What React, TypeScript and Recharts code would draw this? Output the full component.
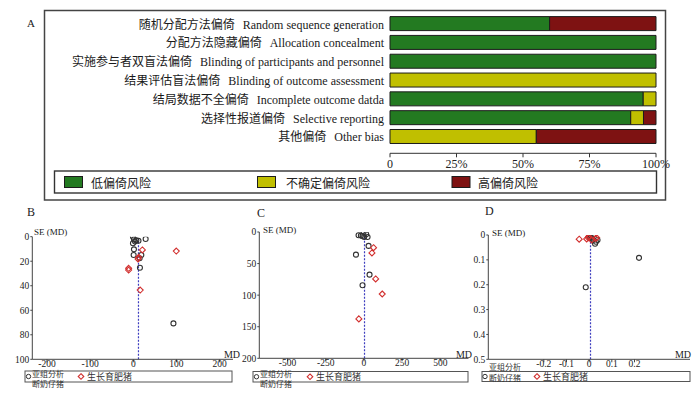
import React from 'react';
import { BarChart, Bar, XAxis, YAxis, ScatterChart, Scatter, ReferenceLine } from 'recharts';

// ---------- Panel A: risk of bias ----------
const biasDomainsZh = ['随机分配方法偏倚', '分配方法隐藏偏倚', '实施参与者双盲法偏倚', '结果评估盲法偏倚', '结局数据不全偏倚', '选择性报道偏倚', '其他偏倚'];
const biasDomainsEn = ['Random sequence generation', 'Allocation concealment', 'Blinding of participants and personnel', 'Blinding of outcome assessment', 'Incomplete outcome datda', 'Selective reporting', 'Other bias'];
const lowRisk = [60, 100, 100, 0, 95.2, 90.5, 0];
const unclearRisk = [0, 0, 0, 100, 4.8, 4.8, 55];
const highRisk = [40, 0, 0, 0, 0, 4.7, 45];
const riskLegend = ['低偏倚风险', '不确定偏倚风险', '高偏倚风险'];
const riskColors = ['#237a21', '#c0bf00', '#7e1212'];
const percentTicks = [0, 25, 50, 75, 100];

// ---------- Panel B ----------
const bWeanMD = [-0.8, 28.6, 1.5, 7, 4, -0.8, 12, 1.5, 0.8, 18.6, 14.7, 15.4, 93];
const bWeanSE = [0, 1.9, 2.2, 3, 4, 5.4, 3.3, 10.3, 14.9, 14.9, 17.6, 25.3, 70.7];
const bFinishMD = [21, 99.6, 12.4, 11, -10.8, -10.8, 16];
const bFinishSE = [10.8, 11.7, 16.8, 18.2, 25.8, 27.2, 43.5];
const bPooled = 12;
const bXTicks = [-200, -100, 0, 100, 200];
const bYTicks = [0, 20, 40, 60, 80, 100];

// ---------- Panel C ----------
const cWeanMD = [-2, -35, -19.6, -9, 15, 24, 2, 30.6, -52, 37, -9];
const cWeanSE = [0, 5.2, 5.7, 6.3, 3.6, 7.9, 7.9, 22, 35.9, 67.5, 84.4];
const cFinishMD = [63, 52.6, 77, 120, -33];
const cFinishSE = [24.8, 33.2, 74.4, 98.2, 137.6];
const cPooled = 4;
const cXTicks = [-500, -250, 0, 250, 500];
const cYTicks = [0, 50, 100, 150, 200];

// ---------- Panel D ----------
const dWeanMD = [0.22, -0.015, 0.026, 0.03, 0.037, 0.018, 0.007, 0, 0.012, 0.004];
const dWeanSE = [0.092, 0.21, 0.035, 0.027, 0.02, 0.02, 0.008, 0.004, 0.014, 0.012];
const dFinishMD = [-0.044, -0.011, -0.004, -0.002, 0.033, 0.011, 0.028];
const dFinishSE = [0.017, 0.016, 0.011, 0.006, 0.011, 0.02, 0.014];
const dPooled = 0.006;
const dXTicks = [-0.2, -0.1, 0, 0.1, 0.2];
const dYTicks = [0, 0.1, 0.2, 0.3, 0.4, 0.5];

const subgroupTitle = '亚组分析';
const groupNames = ['断奶仔猪', '生长育肥猪'];

const SERIF = "'Liberation Serif', 'Noto Sans CJK SC', serif";
const CJK = "'Noto Sans CJK SC', sans-serif";

const biasData = biasDomainsZh.map((zh, i) => ({ zh, low: lowRisk[i], unclear: unclearRisk[i], high: highRisk[i] }));
const toPoints = (md: number[], se: number[]) => md.map((m, i) => ({ md: m, se: se[i] }));

const BiasTick = (props: any) => {
  const { x, y, payload } = props;
  const i = biasDomainsZh.indexOf(payload.value);
  return (
    <text x={x} y={y} dy={4.5} textAnchor="end" fill="#1a1a1a">
      <tspan fontFamily={CJK} fontSize={12}>{biasDomainsZh[i]}</tspan>
      <tspan fontFamily={SERIF} fontSize={12} dx={8}>{biasDomainsEn[i]}</tspan>
    </text>
  );
};

const CircleShape = (p: any) => (
  <circle cx={p.cx} cy={p.cy} r={2.5} fill="none" stroke="#333" strokeWidth={1.1} />
);
const DiamondShape = (p: any) => (
  <polygon
    points={`${p.cx},${p.cy - 3} ${p.cx + 3},${p.cy} ${p.cx},${p.cy + 3} ${p.cx - 3},${p.cy}`}
    fill="none"
    stroke="#d2302f"
    strokeWidth={1.1}
  />
);

type FunnelProps = {
  left: number; top: number; width: number; height: number;
  margin: { top: number; right: number; bottom: number; left: number };
  yAxisWidth: number;
  xDomain: [number, number]; yDomain: [number, number];
  xTicks: number[]; yTicks: number[];
  wean: { md: number; se: number }[]; finish: { md: number; se: number }[];
  pooled: number;
};

const axisTick = { fontSize: 9.5, fontFamily: SERIF, fill: '#222' };

const Funnel = (f: FunnelProps) => (
  <div style={{ position: 'absolute', left: f.left, top: f.top }}>
    <ScatterChart width={f.width} height={f.height} margin={f.margin}>
      <XAxis
        type="number" dataKey="md" domain={f.xDomain} ticks={f.xTicks} interval={0}
        allowDataOverflow height={20} tickSize={3} tickMargin={-2}
        stroke="#444" tick={axisTick}
      />
      <YAxis
        type="number" dataKey="se" domain={f.yDomain} ticks={f.yTicks} interval={0}
        reversed allowDataOverflow width={f.yAxisWidth} tickSize={2} tickMargin={1}
        stroke="#444" tick={axisTick}
      />
      <ReferenceLine x={f.pooled} stroke="#3d3dbf" strokeDasharray="2 1.5" strokeWidth={1.2} />
      <Scatter data={f.wean} shape={CircleShape} isAnimationActive={false} />
      <Scatter data={f.finish} shape={DiamondShape} isAnimationActive={false} />
    </ScatterChart>
  </div>
);

const SmallCircle = ({ x, y }: { x: number; y: number }) => (
  <circle cx={x} cy={y} r={2.2} fill="none" stroke="#333" strokeWidth={1} />
);
const SmallDiamond = ({ x, y }: { x: number; y: number }) => (
  <polygon points={`${x},${y - 2.8} ${x + 2.8},${y} ${x},${y + 2.8} ${x - 2.8},${y}`} fill="none" stroke="#d2302f" strokeWidth={1.1} />
);

const FunnelLegend = ({ bx, by, bw, bh, cx, tx, ty1, ty2, dx, dtx }: any) => (
  <g>
    <rect x={bx} y={by} width={bw} height={bh} fill="#fff" stroke="#555" strokeWidth={1} />
    <SmallCircle x={cx} y={by + bh / 2} />
    <text x={tx} y={ty1} dominantBaseline="central" fontFamily={CJK} fontSize={8} fill="#333">{subgroupTitle}</text>
    <text x={tx} y={ty2} dominantBaseline="central" fontFamily={CJK} fontSize={8} fill="#333">{groupNames[0]}</text>
    <SmallDiamond x={dx} y={by + bh / 2} />
    <text x={dtx} y={by + bh / 2} dominantBaseline="central" fontFamily={CJK} fontSize={9} fill="#333">{groupNames[1]}</text>
  </g>
);

export default function App() {
  const legendX = [64.5, 257.5, 452];
  const legendTextX = [91, 286, 478];
  return (
    <div style={{ position: 'absolute', left: 0, top: 0, width: 700, height: 394, background: '#fff', overflow: 'hidden' }}>
      <div style={{ position: 'absolute', left: 0, top: 0 }}>
        <BarChart
          width={700} height={200} layout="vertical" data={biasData}
          margin={{ top: 14.6, right: 44, bottom: 16.7, left: 0 }}
        >
          <XAxis
            type="number" domain={[0, 100]} ticks={percentTicks} interval={0} height={30}
            tickSize={4} tickMargin={2.5} stroke="#333"
            tickFormatter={(v: number) => (v === 0 ? '0' : `${v}%`)}
            tick={{ fontSize: 12, fontFamily: SERIF, fill: '#222' }}
          />
          <YAxis
            type="category" dataKey="zh" width={390} axisLine={false} tickLine={false}
            tickSize={4} tickMargin={2} padding={{ top: 0, bottom: 7 }} interval={0}
            tick={BiasTick}
          />
          <Bar dataKey="low" stackId="r" fill={riskColors[0]} stroke="#1c1c1c" strokeWidth={1} barSize={14} isAnimationActive={false} />
          <Bar dataKey="unclear" stackId="r" fill={riskColors[1]} stroke="#1c1c1c" strokeWidth={1} barSize={14} isAnimationActive={false} />
          <Bar dataKey="high" stackId="r" fill={riskColors[2]} stroke="#1c1c1c" strokeWidth={1} barSize={14} isAnimationActive={false} />
        </BarChart>
      </div>

      <Funnel
        left={0} top={200} width={240} height={194}
        margin={{ top: 36.7, right: 7, bottom: 14.7, left: 0 }} yAxisWidth={32.3}
        xDomain={[-234, 231]} yDomain={[0, 100]} xTicks={bXTicks} yTicks={bYTicks}
        wean={toPoints(bWeanMD, bWeanSE)} finish={toPoints(bFinishMD, bFinishSE)} pooled={bPooled}
      />
      <Funnel
        left={230} top={200} width={245} height={194}
        margin={{ top: 32, right: 6.5, bottom: 15.7, left: 0 }} yAxisWidth={29.3}
        xDomain={[-685, 685]} yDomain={[0, 200]} xTicks={cXTicks} yTicks={cYTicks}
        wean={toPoints(cWeanMD, cWeanSE)} finish={toPoints(cFinishMD, cFinishSE)} pooled={cPooled}
      />
      <Funnel
        left={455} top={200} width={245} height={194}
        margin={{ top: 35, right: 10, bottom: 14.7, left: 0 }} yAxisWidth={33.3}
        xDomain={[-0.445, 0.445]} yDomain={[0, 0.5]} xTicks={dXTicks} yTicks={dYTicks}
        wean={toPoints(dWeanMD, dWeanSE)} finish={toPoints(dFinishMD, dFinishSE)} pooled={dPooled}
      />

      <svg width={700} height={394} style={{ position: 'absolute', left: 0, top: 0, pointerEvents: 'none' }}>
        {/* Panel A frame and legend */}
        <rect x={44.5} y={10.5} width={621} height={189.5} fill="none" stroke="#444" strokeWidth={1.5} />
        <text x={27} y={23} dominantBaseline="central" fontFamily={SERIF} fontSize={11} fill="#222">A</text>
        <rect x={54.5} y={171} width={602} height={22} fill="none" stroke="#333" strokeWidth={1.4} />
        {riskLegend.map((label, i) => (
          <g key={label}>
            <rect x={legendX[i]} y={176.5} width={18} height={11} fill={riskColors[i]} stroke="#1c1c1c" strokeWidth={1} />
            <text x={legendTextX[i]} y={182.5} dominantBaseline="central" fontFamily={CJK} fontSize={12} fill="#222">{label}</text>
          </g>
        ))}

        {/* Panel letters */}
        <text x={27} y={212} dominantBaseline="central" fontFamily={SERIF} fontSize={12} fill="#222">B</text>
        <text x={257} y={213} dominantBaseline="central" fontFamily={SERIF} fontSize={12} fill="#222">C</text>
        <text x={485} y={211} dominantBaseline="central" fontFamily={SERIF} fontSize={12} fill="#222">D</text>

        {/* Axis titles */}
        <text x={34} y={231.5} dominantBaseline="central" fontFamily={SERIF} fontSize={9} fill="#222">SE (MD)</text>
        <text x={263} y={229.5} dominantBaseline="central" fontFamily={SERIF} fontSize={9} fill="#222">SE (MD)</text>
        <text x={492} y={233} dominantBaseline="central" fontFamily={SERIF} fontSize={9} fill="#222">SE (MD)</text>
        <text x={240} y={354} textAnchor="end" dominantBaseline="central" fontFamily={SERIF} fontSize={10} fill="#222">MD</text>
        <text x={472} y={354} textAnchor="end" dominantBaseline="central" fontFamily={SERIF} fontSize={10} fill="#222">MD</text>
        <text x={691} y={354} textAnchor="end" dominantBaseline="central" fontFamily={SERIF} fontSize={10} fill="#222">MD</text>

        {/* Funnel legends */}
        <FunnelLegend bx={25} by={371} bw={207} bh={11} cx={28.5} tx={32} ty1={373} ty2={383.5} dx={81} dtx={87} />
        <FunnelLegend bx={253} by={371.5} bw={215} bh={10.5} cx={256.5} tx={260} ty1={373} ty2={383.5} dx={310} dtx={316} />
        <FunnelLegend bx={482} by={371.5} bw={208} bh={10} cx={485} tx={489} ty1={366.5} ty2={377} dx={537} dtx={543} />
      </svg>
    </div>
  );
}
